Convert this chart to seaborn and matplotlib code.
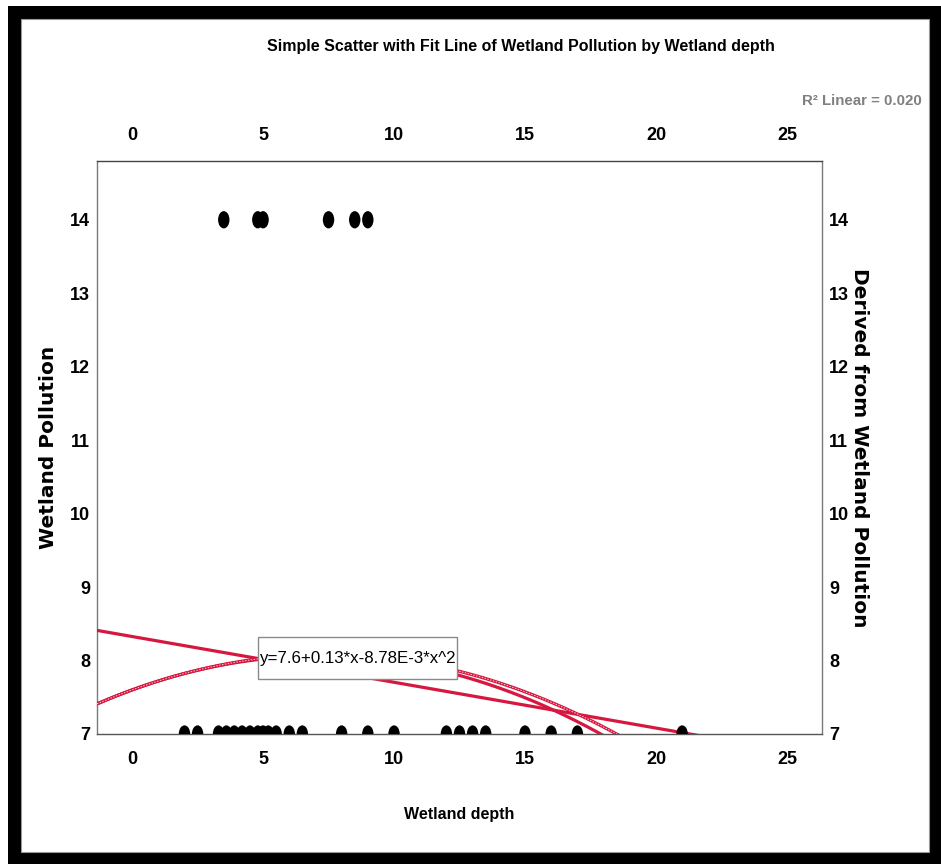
import numpy as np
import pandas as pd
import matplotlib
matplotlib.use("Agg")
import matplotlib.pyplot as plt
from matplotlib.path import Path
from matplotlib.transforms import Affine2D
from matplotlib.patches import Rectangle
import seaborn as sns

# ---- data ----
high_depth = [3.5, 4.8, 5.0, 7.5, 8.5, 9.0]
high_pollution = [14, 14, 14, 14, 14, 14]
low_depth = [2.0, 2.5, 3.3, 3.6, 3.9, 4.2, 4.5, 4.8, 5.0, 5.2, 5.5, 6.0, 6.5,
             8.0, 9.0, 10.0, 12.0, 12.5, 13.0, 13.5, 15.0, 16.0, 17.0, 21.0]
low_pollution = [7] * len(low_depth)

linear_coef = [8.327, -0.0623]           # intercept, slope (R2 linear = 0.020)
quad_coef = [7.6, 0.13, -0.00878]        # y=7.6+0.13*x-8.78E-3*x^2
quad2_coef = [7.6, 0.13, -0.00914]       # second (solid) curve
x_ticks = [0, 5, 10, 15, 20, 25]
y_ticks = [7, 8, 9, 10, 11, 12, 13, 14]

title = "Simple Scatter with Fit Line of Wetland Pollution by Wetland depth"
r2_text = "R\u00b2 Linear = 0.020"
eq_text = "y=7.6+0.13*x-8.78E-3*x^2"

df = pd.DataFrame({
    "Wetland depth": high_depth + low_depth,
    "Wetland Pollution": high_pollution + low_pollution,
})

sns.set_style("white")
NARROW = ["Liberation Sans Narrow", "Liberation Sans", "DejaVu Sans"]
WIDE = ["DejaVu Sans"]
plt.rcParams["font.family"] = NARROW
plt.rcParams["text.color"] = "black"
plt.rcParams["axes.labelcolor"] = "black"
plt.rcParams["xtick.color"] = "black"
plt.rcParams["ytick.color"] = "black"

W, H = 941, 864
fig = plt.figure(figsize=(W / 100, H / 100), dpi=100)
fig.patch.set_facecolor("white")

# black frame around the picture
fig.patches.append(Rectangle((8 / W, 0), 1 - 8 / W, 1 - 6 / H, transform=fig.transFigure,
                             facecolor="black", edgecolor="none", zorder=-10))
fig.patches.append(Rectangle((21 / W, 12 / H), (929 - 21) / W, (852 - 19) / H,
                             transform=fig.transFigure, facecolor="white",
                             edgecolor="#999999", lw=0.8, zorder=-9))

L, R, T, B = 97, 822, 161, 734
ax = fig.add_axes([L / W, 1 - B / H, (R - L) / W, (B - T) / H])
ax.set_facecolor("white")

xmin, xmax = -1.34, 26.34
ymin, ymax = 7.0, 14.8

# fit lines
xs = np.linspace(xmin, xmax, 400)
red = "#d6173f"
y_lin = linear_coef[0] + linear_coef[1] * xs
y_q2 = quad2_coef[0] + quad2_coef[1] * xs + quad2_coef[2] * xs ** 2
y_q = quad_coef[0] + quad_coef[1] * xs + quad_coef[2] * xs ** 2
sns.lineplot(x=xs, y=y_lin, ax=ax, color=red, lw=2.3, zorder=3)
sns.lineplot(x=xs, y=y_q2, ax=ax, color=red, lw=2.3, zorder=3)
sns.lineplot(x=xs, y=y_q, ax=ax, color=red, lw=2.3, zorder=4)
sns.lineplot(x=xs, y=y_q, ax=ax, color="white", lw=0.7, zorder=5,
             linestyle=(0, (1.5, 1.5)), alpha=0.8)

# scatter points (tall elliptical markers)
ellipse = Path.unit_circle().transformed(Affine2D().scale(0.66, 1.0))
sns.scatterplot(data=df, x="Wetland depth", y="Wetland Pollution", ax=ax,
                color="black", marker=ellipse, s=155, edgecolor="none",
                zorder=6, clip_on=True)

ax.set_xlim(xmin, xmax)
ax.set_ylim(ymin, ymax)
ax.set_xticks(x_ticks)
ax.set_yticks(y_ticks)
ax.set_xticklabels([str(v) for v in x_ticks])
ax.set_yticklabels([str(v) for v in y_ticks])
ax.tick_params(axis="x", length=0, pad=12, labeltop=True, labelbottom=True,
               labelsize=13, labelcolor="black")
ax.tick_params(axis="y", length=0, pad=5, labelleft=True, labelright=True,
               labelsize=13, labelcolor="black")
for t in ax.xaxis.get_major_ticks():
    t.label1.set_fontweight("bold"); t.label2.set_fontweight("bold")
for t in ax.yaxis.get_major_ticks():
    t.label1.set_fontweight("bold"); t.label2.set_fontweight("bold")

for side, sp in ax.spines.items():
    sp.set_visible(True)
    sp.set_color("#7a7a7a")
    sp.set_linewidth(1.0)
ax.spines["top"].set_color("#444444")
ax.spines["bottom"].set_color("#555555")
ax.grid(False)

ax.set_xlabel("Wetland depth", fontsize=11.5, fontweight="bold", family=NARROW,
              color="black")
ax.xaxis.set_label_coords(0.5, (B - 807) / (B - T))
ax.set_ylabel("Wetland Pollution", fontsize=14.5, fontweight="bold", family=WIDE,
              color="black")
ax.yaxis.set_label_coords((58 - L) / (R - L), 0.5)
ax.text((860 - L) / (R - L), 0.5, "Derived from Wetland Pollution",
        transform=ax.transAxes, rotation=270, ha="center", va="center",
        fontsize=14.5, fontweight="bold", family=WIDE, color="black")

# equation label with its frame
ax.add_patch(Rectangle(((258 - L) / (R - L), (B - 679) / (B - T)),
                       199 / (R - L), 42 / (B - T), transform=ax.transAxes,
                       facecolor="white", edgecolor="#8a8a8a", lw=1.0, zorder=7))
ax.text((357.5 - L) / (R - L), (B - 658) / (B - T), eq_text,
        transform=ax.transAxes, ha="center", va="center", fontsize=12.2,
        family=NARROW, color="black", zorder=8)

fig.text(521 / W, 1 - 47 / H, title, ha="center", va="center", fontsize=11.5,
         family=NARROW, color="black", fontweight="bold")
fig.text(922 / W, 1 - 101 / H, r2_text, ha="right", va="center", fontsize=10.8,
         family=NARROW, color="#808080", fontweight="bold")

fig.savefig("out.png", dpi=100, facecolor="white")
